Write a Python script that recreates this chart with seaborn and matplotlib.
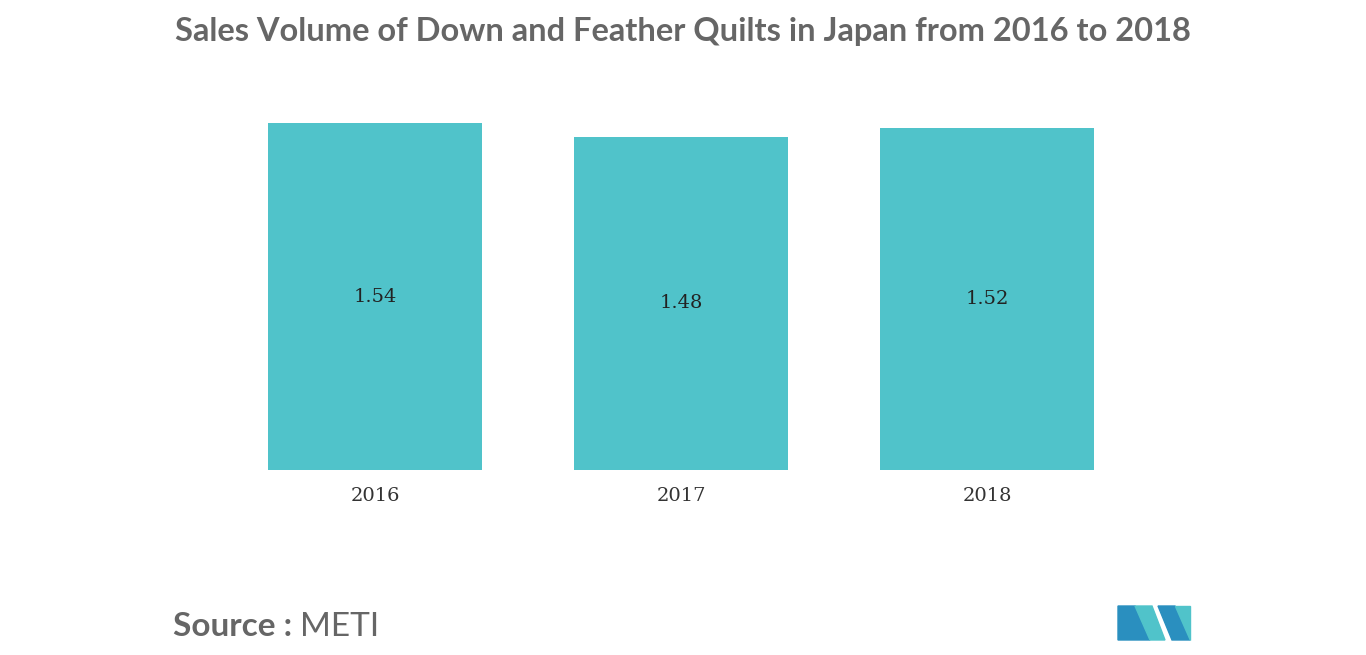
import matplotlib
matplotlib.use("Agg")
import matplotlib.pyplot as plt
import seaborn as sns
import pandas as pd
from matplotlib.patches import Polygon

years = ["2016", "2017", "2018"]
values = [1.54, 1.48, 1.52]
df = pd.DataFrame({"year": years, "value": values})

W, H = 1366, 655
fig = plt.figure(figsize=(W/100, H/100), dpi=100)
ax = fig.add_axes([222/W, 1-470/H, (1140-222)/W, (470-110)/H])
sns.barplot(data=df, x="year", y="value", color="#50C3CA", saturation=1, width=0.7, ax=ax)
ax.set_xlim(-0.5, 2.5)
ax.set_ylim(0, 1.598)
for i, v in enumerate(values):
    ax.text(i, v/2, f"{v:.2f}", ha="center", va="center", fontsize=14, color="#222222", family="DejaVu Serif")
for s in ["top", "right", "left", "bottom"]:
    ax.spines[s].set_visible(False)
ax.set_yticks([])
ax.set_xlabel(""); ax.set_ylabel("")
ax.tick_params(axis="x", length=0, pad=12, labelsize=14, labelcolor="#333333")
for t in ax.get_xticklabels():
    t.set_family("DejaVu Serif")

fig.text(683/W, 1-32/H, "Sales Volume of Down and Feather Quilts in Japan from 2016 to 2018",
         ha="center", va="center", fontsize=23.5, color="#666666", family="Lato", weight="bold")
fig.text(173/W, 1-627/H, "Source :", ha="left", va="center", fontsize=24, color="#666666", family="Lato", weight="bold")
fig.text(300/W, 1-627/H, "METI", ha="left", va="center", fontsize=24, color="#666666", family="Lato")

def P(pts, c):
    fig.patches.append(Polygon([(x/W, 1-y/H) for x, y in pts], closed=True, color=c, transform=fig.transFigure))
P([(1118, 640), (1118, 606), (1135, 606), (1150, 640)], "#2A8FBF")
P([(1135, 606), (1152, 606), (1165, 640), (1150, 640)], "#50C3CA")
P([(1158, 606), (1175, 606), (1190, 640), (1172, 640)], "#2A8FBF")
P([(1175, 606), (1190, 606), (1190, 640)], "#50C3CA")
fig.savefig("out.png", dpi=100, facecolor="white")
